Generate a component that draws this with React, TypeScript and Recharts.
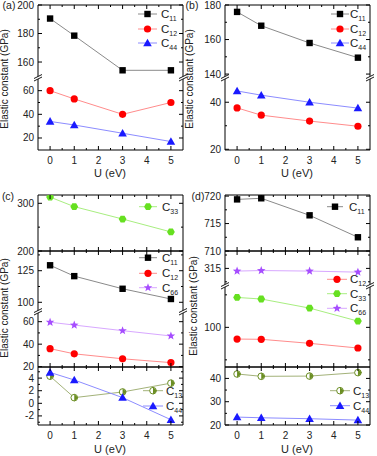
import React from 'react';
import { LineChart, Line, XAxis, YAxis } from 'recharts';

const FONT = '"Liberation Sans", Arial, Helvetica, sans-serif';

// ---------- data ----------
const U = [0, 1, 3, 5];
const X_ALL = [0, 0.5, 1, 1.5, 2, 2.5, 3, 3.5, 4, 4.5, 5];

// panel (a)
const A_C11 = [190.5, 178.5, 154.2, 154.2];
const A_C12 = [60, 53, 40, 50];
const A_C44 = [34, 31, 24, 17];
// panel (b)
const B_C11 = [176, 168, 158, 149.5];
const B_C12 = [37.6, 34.5, 32, 29.8];
const B_C44 = [44.8, 43, 40, 37.5];
// panel (c)
const C_C33 = [313, 293, 267, 240];
const C_C11 = [129.3, 120.7, 110.7, 102.6];
const C_C66 = [59.5, 57, 52, 47.3];
const C_C12 = [36, 31.4, 27, 23.6];
const C_C13 = [4.3, 0.9, 1.8, 3.2];
const C_C44 = [4.9, 3.7, 0.9, -2.6];
// panel (d)
const D_C11 = [719.4, 719.6, 716.5, 712.5];
const D_C66 = [314.5, 314.6, 314.5, 314.3];
const D_C33 = [123, 121.8, 114.8, 104.8];
const D_C12 = [91, 90.8, 87.7, 84.1];
const D_C13 = [41.9, 40.9, 41, 42.5];
const D_C44 = [23.4, 23.1, 22.7, 22.1];

// ---------- styles ----------
type Kind = 'square' | 'circle' | 'triangle' | 'hex' | 'star' | 'half';
const STYLE: Record<string, { line: string; color: string; kind: Kind; sub: string }> = {
  C11: { line: '#8a8a8a', color: '#000000', kind: 'square', sub: '11' },
  C12: { line: '#ff8c8c', color: '#ff0000', kind: 'circle', sub: '12' },
  C44: { line: '#8c8cff', color: '#1a1aff', kind: 'triangle', sub: '44' },
  C33: { line: '#a8ee80', color: '#66e020', kind: 'hex', sub: '33' },
  C66: { line: '#d8a8ff', color: '#a64dff', kind: 'star', sub: '66' },
  C13: { line: '#a3b279', color: '#6b8e23', kind: 'half', sub: '13' },
};

function Marker({ kind, cx, cy, color }: { kind: Kind; cx: number; cy: number; color: string }) {
  if (cx == null || cy == null) return null;
  switch (kind) {
    case 'square':
      return <rect x={cx - 3.2} y={cy - 3.2} width={6.4} height={6.4} fill={color} />;
    case 'circle':
      return <circle cx={cx} cy={cy} r={3.6} fill={color} />;
    case 'triangle': {
      const s = 4.3;
      return <polygon points={`${cx},${cy - s} ${cx + s},${cy + s * 0.75} ${cx - s},${cy + s * 0.75}`} fill={color} />;
    }
    case 'hex': {
      const pts = [];
      for (let k = 0; k < 6; k++) {
        const a = (Math.PI / 3) * k;
        pts.push(`${cx + 3.9 * Math.cos(a)},${cy + 3.9 * Math.sin(a)}`);
      }
      return <polygon points={pts.join(' ')} fill={color} />;
    }
    case 'star': {
      const pts = [];
      for (let k = 0; k < 10; k++) {
        const a = -Math.PI / 2 + (Math.PI / 5) * k;
        const r = k % 2 === 0 ? 4.5 : 1.9;
        pts.push(`${cx + r * Math.cos(a)},${cy + r * Math.sin(a)}`);
      }
      return <polygon points={pts.join(' ')} fill={color} />;
    }
    case 'half':
      return (
        <g>
          <circle cx={cx} cy={cy} r={3.3} fill="#fff" stroke={color} strokeWidth={1} />
          <path d={`M ${cx} ${cy - 3.8} L ${cx + 4} ${cy} L ${cx} ${cy + 3.8} Z`} fill={color} />
        </g>
      );
  }
  return null;
}

// ---------- segments ----------
type Seg = {
  id: string;
  xs: [number, number];
  ys: [number, number];
  domain: [number, number];
  ticks: number[];
  minor: number[];
  lines: [string, number[]][];
  top: boolean;
  bottom: boolean;
  labels: boolean;
};

const LEFT: [number, number] = [38, 183];
const RIGHT: [number, number] = [225, 370];

const SEGS: Seg[] = [
  { id: 'a1', xs: LEFT, ys: [5, 77], domain: [149.5, 200], ticks: [160, 180, 200], minor: [170, 190], lines: [['C11', A_C11]], top: true, bottom: false, labels: false },
  { id: 'a2', xs: LEFT, ys: [78, 150], domain: [9.85, 70.7], ticks: [20, 40, 60], minor: [30, 50], lines: [['C12', A_C12], ['C44', A_C44]], top: false, bottom: true, labels: true },
  { id: 'b1', xs: RIGHT, ys: [5, 77], domain: [138.3, 180], ticks: [140, 160, 180], minor: [150, 170], lines: [['C11', B_C11]], top: true, bottom: false, labels: false },
  { id: 'b2', xs: RIGHT, ys: [78, 150], domain: [19.7, 50.3], ticks: [20, 40], minor: [30], lines: [['C12', B_C12], ['C44', B_C44]], top: false, bottom: true, labels: true },
  { id: 'c1', xs: LEFT, ys: [195, 251], domain: [200, 317.4], ticks: [200, 300], minor: [250], lines: [['C33', C_C33]], top: true, bottom: true, labels: false },
  { id: 'c2', xs: LEFT, ys: [251, 311], domain: [93.1, 140.6], ticks: [100, 125], minor: [112.5, 137.5], lines: [['C11', C_C11]], top: true, bottom: false, labels: false },
  { id: 'c3', xs: LEFT, ys: [312, 367], domain: [19.7, 68.6], ticks: [20, 40, 60], minor: [30, 50], lines: [['C66', C_C66], ['C12', C_C12]], top: false, bottom: true, labels: false },
  { id: 'c4', xs: LEFT, ys: [367, 425], domain: [-3.44, 5.76], ticks: [-2, 0, 2, 4], minor: [-3, -1, 1, 3, 5], lines: [['C13', C_C13], ['C44', C_C44]], top: true, bottom: true, labels: true },
  { id: 'd1', xs: RIGHT, ys: [195, 251], domain: [710, 720.2], ticks: [710, 715, 720], minor: [712.5, 717.5], lines: [['C11', D_C11]], top: true, bottom: true, labels: false },
  { id: 'd2', xs: RIGHT, ys: [251, 285], domain: [311.9, 318.25], ticks: [315], minor: [312.5, 317.5], lines: [['C66', D_C66]], top: true, bottom: false, labels: false },
  { id: 'd3', xs: RIGHT, ys: [286, 367], domain: [69.5, 131.8], ticks: [100], minor: [75, 125], lines: [['C33', D_C33], ['C12', D_C12]], top: false, bottom: true, labels: false },
  { id: 'd4', xs: RIGHT, ys: [367, 425], domain: [20, 44.9], ticks: [20, 30, 40], minor: [25, 35], lines: [['C13', D_C13], ['C44', D_C44]], top: true, bottom: true, labels: true },
];

const YW = 40;
const RW = 6;
const TH = 6;
const BH = 22;

function Segment({ s }: { s: Seg }) {
  const w = s.xs[1] - s.xs[0];
  const h = s.ys[1] - s.ys[0];
  const data = U.map((u, i) => {
    const r: any = { u };
    s.lines.forEach(([name, vals]) => (r[name] = vals[i]));
    return r;
  });
  const yTicks = [...s.ticks, ...s.minor].sort((a, b) => a - b);

  const xTick = (dir: number, labels: boolean) => (p: any) => {
    const v = p.payload.value;
    const maj = Number.isInteger(v);
    const len = maj ? 4 : 2;
    return (
      <g key={`xt-${v}`}>
        <line x1={p.x} x2={p.x} y1={p.y} y2={p.y + dir * len} stroke="#000" strokeWidth={1} />
        {labels && maj && (
          <text x={p.x} y={p.y + 10} textAnchor="middle" dominantBaseline="central" fontSize={10} fontFamily={FONT} fill="#222">
            {v}
          </text>
        )}
      </g>
    );
  };
  const yTick = (dir: number, labels: boolean) => (p: any) => {
    const v = p.payload.value;
    const maj = s.ticks.includes(v);
    const len = maj ? 4 : 2;
    return (
      <g key={`yt-${v}`}>
        <line x1={p.x} x2={p.x + dir * len} y1={p.y} y2={p.y} stroke="#000" strokeWidth={1} />
        {labels && maj && (
          <text x={p.x - 4} y={p.y} textAnchor="end" dominantBaseline="central" fontSize={10} fontFamily={FONT} fill="#222">
            {v}
          </text>
        )}
      </g>
    );
  };

  return (
    <div style={{ position: 'absolute', left: s.xs[0] - YW, top: s.ys[0] - TH }}>
      <LineChart width={YW + w + RW} height={TH + h + BH} data={data} margin={{ top: 0, right: 0, bottom: 0, left: 0 }}>
        <XAxis
          xAxisId="b"
          dataKey="u"
          type="number"
          domain={[-0.5, 5.5]}
          allowDataOverflow
          ticks={X_ALL}
          interval={0}
          orientation="bottom"
          height={BH}
          axisLine={s.bottom ? { stroke: '#000' } : false}
          tickLine={false}
          tickSize={0}
          tickMargin={0}
          tick={s.bottom ? xTick(-1, s.labels) : false}
        />
        <XAxis
          xAxisId="t"
          dataKey="u"
          type="number"
          domain={[-0.5, 5.5]}
          allowDataOverflow
          ticks={X_ALL}
          interval={0}
          orientation="top"
          height={TH}
          axisLine={s.top ? { stroke: '#000' } : false}
          tickLine={false}
          tickSize={0}
          tickMargin={0}
          tick={s.top ? xTick(1, false) : false}
        />
        <YAxis
          yAxisId="l"
          orientation="left"
          width={YW}
          type="number"
          domain={s.domain}
          allowDataOverflow
          ticks={yTicks}
          interval={0}
          axisLine={{ stroke: '#000' }}
          tickLine={false}
          tickSize={0}
          tickMargin={0}
          tick={yTick(1, true)}
        />
        <YAxis
          yAxisId="r"
          orientation="right"
          width={RW}
          type="number"
          domain={s.domain}
          allowDataOverflow
          ticks={yTicks}
          interval={0}
          axisLine={{ stroke: '#000' }}
          tickLine={false}
          tickSize={0}
          tickMargin={0}
          tick={yTick(-1, false)}
        />
        {s.lines.map(([name]) => {
          const st = STYLE[name];
          return (
            <Line
              key={name}
              xAxisId="b"
              yAxisId="l"
              dataKey={name}
              stroke={st.line}
              strokeWidth={1}
              isAnimationActive={false}
              dot={(p: any) => (
                <Marker key={`${name}-${p.index}`} kind={st.kind} cx={p.cx} cy={p.cy} color={st.color} />
              )}
              activeDot={false}
            />
          );
        })}
      </LineChart>
    </div>
  );
}

// ---------- legends ----------
type Leg = { x0: number; x1: number; tx: number; items: [string, number][] };
const LEGENDS: Leg[] = [
  { x0: 138, x1: 157, tx: 161, items: [['C11', 14], ['C12', 29], ['C44', 43]] },
  { x0: 331, x1: 349, tx: 350, items: [['C11', 14], ['C12', 29], ['C44', 43]] },
  { x0: 139, x1: 157, tx: 162, items: [['C33', 206.7]] },
  { x0: 139, x1: 157, tx: 162, items: [['C11', 257.7], ['C12', 273.3], ['C66', 287.7]] },
  { x0: 143, x1: 163, tx: 166, items: [['C13', 390.7], ['C44', 406]] },
  { x0: 327, x1: 343, tx: 349, items: [['C11', 206.7]] },
  { x0: 327, x1: 347, tx: 350, items: [['C12', 279.3], ['C33', 293.7], ['C66', 308.3]] },
  { x0: 330, x1: 350, tx: 353, items: [['C13', 390.7], ['C44', 405.7]] },
];

const BREAKS: [number, number][] = [
  [38, 77.5], [183, 77.5],
  [225, 77.5], [370, 77.5],
  [38, 311.5], [183, 311.5],
  [225, 285.5], [370, 285.5],
];

function Overlay() {
  return (
    <svg width={377} height={456} style={{ position: 'absolute', left: 0, top: 0, pointerEvents: 'none' }}>
      {BREAKS.map(([x, y], i) => (
        <g key={`br-${i}`}>
          <polygon points={`${x - 4},${y + 1} ${x + 4},${y - 3} ${x + 4},${y - 0.5} ${x - 4},${y + 3.5}`} fill="#fff" />
          <line x1={x - 4} y1={y + 1} x2={x + 4} y2={y - 3} stroke="#000" strokeWidth={0.9} />
          <line x1={x - 4} y1={y + 3.5} x2={x + 4} y2={y - 0.5} stroke="#000" strokeWidth={0.9} />
        </g>
      ))}
      {LEGENDS.map((lg, li) =>
        lg.items.map(([name, y]) => {
          const st = STYLE[name];
          const mx = (lg.x0 + lg.x1) / 2;
          return (
            <g key={`lg-${li}-${name}`}>
              <line x1={lg.x0} x2={lg.x1} y1={y} y2={y} stroke={st.line} strokeWidth={1} />
              <Marker kind={st.kind} cx={mx} cy={y} color={st.color} />
              <text x={lg.tx} y={y + 4} fontSize={11.5} fontFamily={FONT} fill="#222">
                C
                <tspan fontSize={7} dy={3}>
                  {st.sub}
                </tspan>
              </text>
            </g>
          );
        })
      )}
    </svg>
  );
}

const txt = (x: number, y: number, s: string, size: number, rot = false) => (
  <div
    key={`${s}-${x}-${y}`}
    style={{
      position: 'absolute',
      left: x,
      top: y,
      transform: `translate(-50%, -50%)${rot ? ' rotate(-90deg)' : ''}`,
      whiteSpace: 'nowrap',
      fontSize: size,
      fontFamily: FONT,
      color: '#222',
      lineHeight: 1,
    }}
  >
    {s}
  </div>
);

export default function App() {
  return (
    <div style={{ position: 'absolute', left: 0, top: 0, width: 377, height: 456, background: '#fff', overflow: 'hidden' }}>
      {SEGS.map((s) => (
        <Segment key={s.id} s={s} />
      ))}
      <Overlay />
      {txt(9, 5, '(a)', 10.5)}
      {txt(192, 5, '(b)', 10.5)}
      {txt(8, 196, '(c)', 10.5)}
      {txt(198, 196, '(d)', 10.5)}
      {txt(5, 79, 'Elastic constant (GPa)', 10, true)}
      {txt(190, 79, 'Elastic constant (GPa)', 10, true)}
      {txt(5, 308, 'Elastic constant (GPa)', 10, true)}
      {txt(194, 306, 'Elastic constant (GPa)', 10, true)}
      {txt(110, 172.5, 'U (eV)', 11)}
      {txt(297, 172.5, 'U (eV)', 11)}
      {txt(110, 449, 'U (eV)', 11)}
      {txt(297, 449, 'U (eV)', 11)}
    </div>
  );
}
